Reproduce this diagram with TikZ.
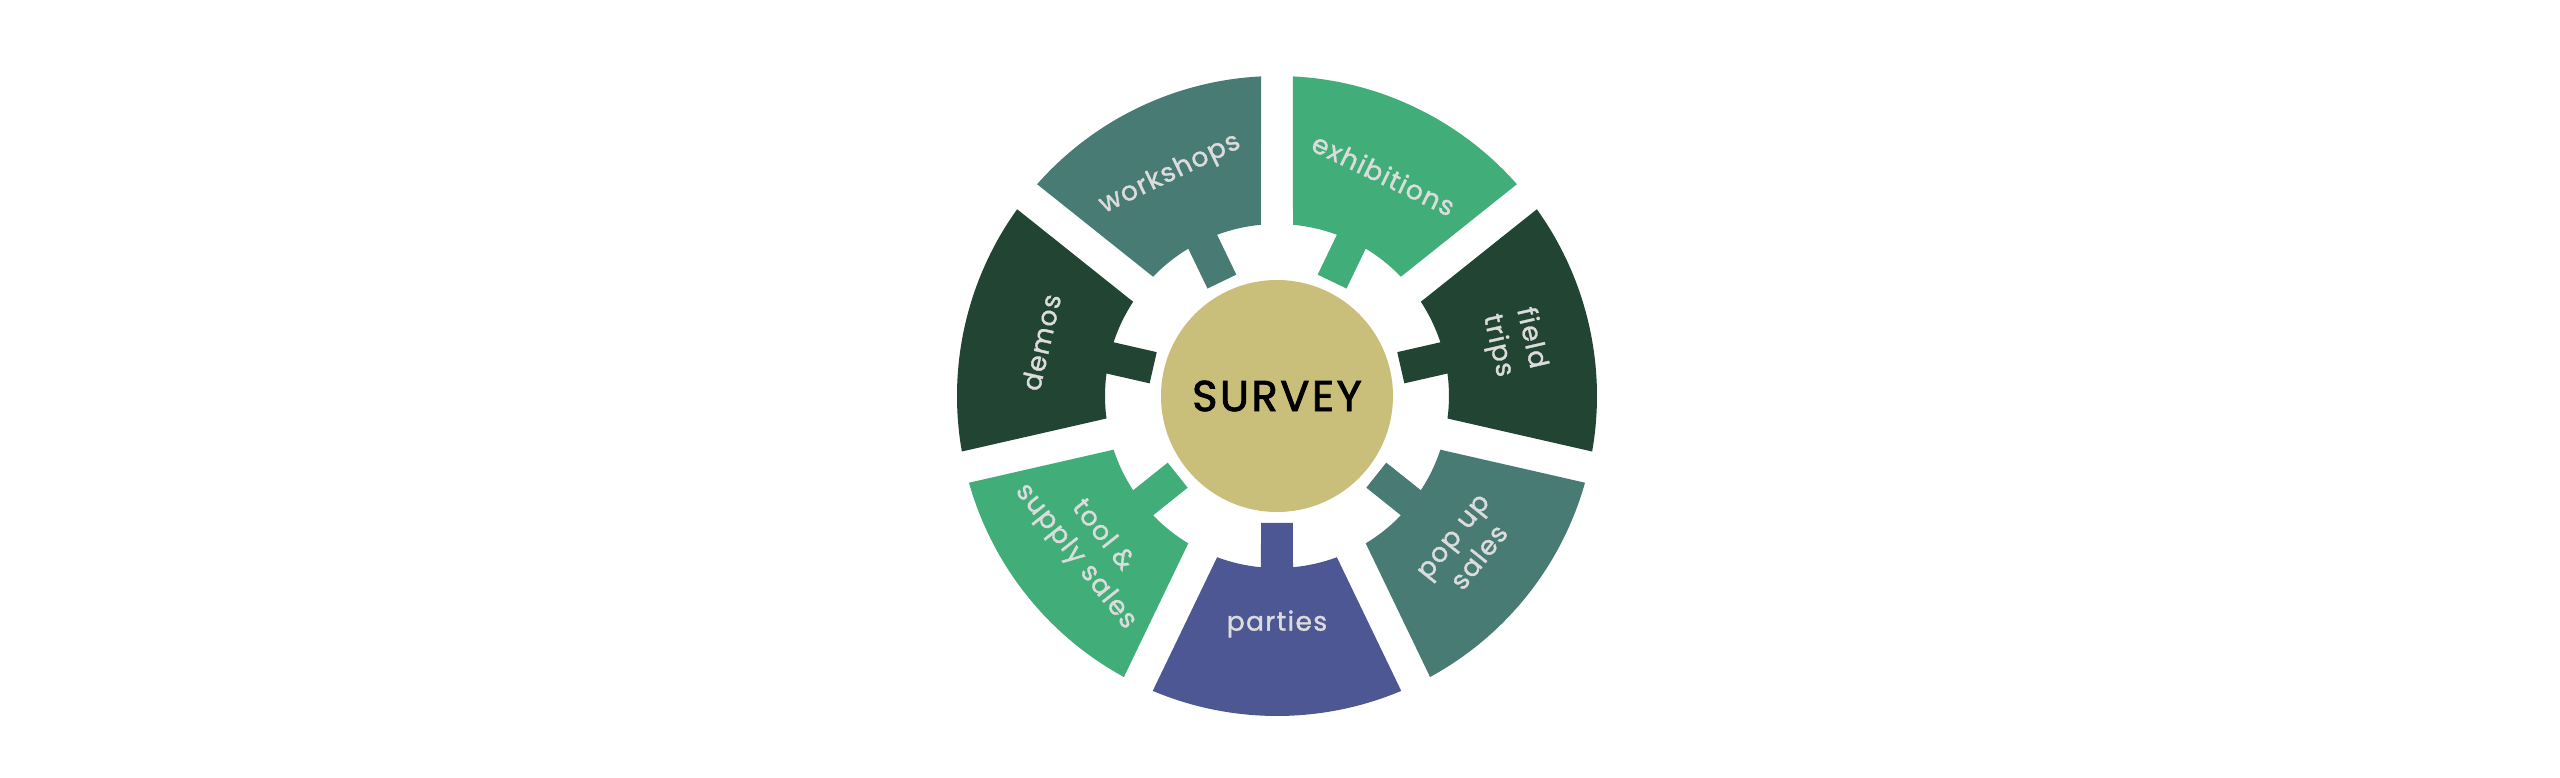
\documentclass[tikz,border=0pt]{standalone}
\usepackage{fontspec}
\newfontfamily\labfont[LetterSpace=5,FakeBold=1.2]{Poppins}
\newfontfamily\survfont[LetterSpace=6,FakeBold=2]{Poppins}
\definecolor{segteal}{HTML}{477B74}
\definecolor{seggreen}{HTML}{41AD78}
\definecolor{segdark}{HTML}{214433}
\definecolor{segblue}{HTML}{4D5794}
\definecolor{centerkhaki}{HTML}{C9BF7A}
\definecolor{labgray}{HTML}{DCDCDC}
\newcommand\drawseg[2]{%
  \pgfmathsetmacro\sga{#1-25.714+2.866}%
  \pgfmathsetmacro\sgb{#1+25.714-2.866}%
  \pgfmathsetmacro\sgc{#1+25.714-5.34}%
  \pgfmathsetmacro\sgd{#1+5.34}%
  \pgfmathsetmacro\sge{#1+7.18}%
  \pgfmathsetmacro\sgf{#1-7.18}%
  \pgfmathsetmacro\sgg{#1-5.34}%
  \pgfmathsetmacro\sgh{#1-25.714+5.34}%
  \fill[#2] (\sga:320) arc[start angle=\sga, end angle=\sgb, radius=320]
    -- (\sgc:172) arc[start angle=\sgc, end angle=\sgd, radius=172]
    -- (\sge:128) -- (\sgf:128) -- (\sgg:172)
    arc[start angle=\sgg, end angle=\sgh, radius=172] -- cycle;
}
\begin{document}
\begin{tikzpicture}[x=0.5pt,y=0.5pt,
  seglabel/.style={text=labgray, align=center, inner sep=0pt,
    font=\labfont\fontsize{13.3}{17}\selectfont}]
\useasboundingbox (-1277,-381) rectangle (1283,396);
\fill[white] (-1277,-381) rectangle (1283,396);
\drawseg{270}{segblue}
\drawseg{321.43}{segteal}
\drawseg{12.857}{segdark}
\drawseg{64.286}{seggreen}
\drawseg{115.714}{segteal}
\drawseg{167.143}{segdark}
\drawseg{218.571}{seggreen}
\node[circle, fill=centerkhaki, minimum size=116pt, inner sep=0pt,
  font=\survfont\fontsize{21.5}{24}\selectfont] (survey) at (0,0) {SURVEY};
\node[seglabel, rotate=25.714] (workshops) at (115.714:246) {workshops};
\node[seglabel, rotate=-25.714] (exhibitions) at (64.286:246) {exhibitions};
\node[seglabel, rotate=-77.143] (fieldtrips) at (12.857:243) {field\\trips};
\node[seglabel, rotate=51.43] (popup) at (321.43:243) {pop up\\sales};
\node[seglabel] (parties) at (270:228) {parties};
\node[seglabel, rotate=-51.43] (toolsupply) at (218.571:241) {tool \&\\supply sales};
\node[seglabel, rotate=77.143] (demos) at (167.143:242) {demos};
\end{tikzpicture}
\end{document}
